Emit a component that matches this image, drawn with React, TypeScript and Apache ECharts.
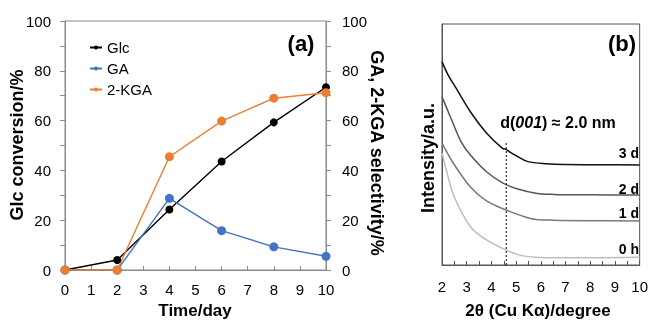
import React, { useEffect, useRef } from 'react';
import * as echarts from 'echarts';

// Panel (a): time course
const days = [0, 2, 4, 6, 8, 10];
const glcConversion = [0, 4, 24.3, 43.6, 59.3, 73.4];
const gaSelectivity = [0, 0, 28.8, 15.8, 9.3, 5.5];
const kgaSelectivity = [0, 0, 45.5, 59.8, 69, 71.2];

// Panel (b): XRD patterns [2theta, intensity a.u.]
const xrd3d = [[2.0, 84.4], [2.25, 78.8], [2.6, 72.9], [3.15, 63.6], [3.8, 54.8], [4.45, 48.4], [4.6, 48.0], [4.75, 46.8], [5.05, 45.1], [5.45, 43.0], [6.25, 42.0], [7, 41.7], [8.5, 41.6], [10, 41.5]];
const xrd2d = [[2.0, 69.8], [2.37, 60.7], [2.77, 51.2], [3.15, 45.6], [3.8, 38.7], [4.45, 34.1], [5.1, 31.4], [5.8, 29.8], [6.5, 29.3], [8, 29.1], [10, 29.0]];
const xrd1d = [[2.0, 50.6], [2.5, 41.6], [3.15, 32.4], [3.8, 26.6], [4.6, 22.8], [5.15, 20.7], [5.8, 18.9], [6.5, 18.6], [8, 18.4], [10, 18.3]];
const xrd0h = [[2.0, 46.5], [2.25, 36.5], [2.5, 28.1], [3.15, 15.9], [3.8, 10.4], [4.6, 6.2], [5.15, 4.1], [5.8, 3.2], [6.5, 3.0], [8, 3.0], [10, 3.2]];
const d001Line = [[4.6, 0], [4.6, 50.6]];

const FONT = '"Liberation Sans", Arial, sans-serif';

export default function App() {
  const ref = useRef<HTMLDivElement>(null);
  useEffect(() => {
    const chart = echarts.init(ref.current!, null, { renderer: 'svg' });
    const grayA = '#8a8a8a';
    const grayB = '#555555';
    const label = (extra: any) => ({ color: '#000', fontSize: 15, fontFamily: FONT, ...extra });
    const txt = (text: string, x: number, y: number, size: number, rotation = 0, align = 'center') => ({
      type: 'text', x, y, rotation, silent: true,
      style: {
        text, fontSize: size, fontWeight: 'bold', fontFamily: FONT, fill: '#000',
        align, verticalAlign: 'middle', textAlign: align, textVerticalAlign: 'middle',
      },
    });
    const xrdSeries = (name: string, data: number[][], color: string) => ({
      name, type: 'line', xAxisIndex: 1, yAxisIndex: 2, data, smooth: 0.35,
      showSymbol: false, lineStyle: { color, width: 1.5 },
    });
    chart.setOption({
      animation: false,
      grid: [
        { left: 65, top: 21, width: 261, height: 249, show: true, borderColor: grayA, borderWidth: 1, containLabel: false },
        { left: 442, top: 24, width: 202, height: 241, show: true, borderColor: grayB, borderWidth: 1, containLabel: false },
      ],
      legend: {
        data: ['Glc', 'GA', '2-KGA'], orient: 'vertical', left: 84, top: 35,
        itemWidth: 12, itemHeight: 5, itemGap: 6,
        textStyle: { fontSize: 15, fontFamily: FONT, color: '#000' },
      },
      xAxis: [
        {
          gridIndex: 0, type: 'value', min: 0, max: 10, interval: 1,
          axisLine: { lineStyle: { color: grayA } },
          axisTick: { inside: true, length: 4, lineStyle: { color: grayA } },
          axisLabel: label({ margin: 12 }), splitLine: { show: false },
        },
        {
          gridIndex: 1, type: 'value', min: 2, max: 10, interval: 0.5,
          axisLine: { lineStyle: { color: grayB } },
          axisTick: { inside: true, length: 4, lineStyle: { color: grayB } },
          axisLabel: label({ margin: 14, formatter: (v: number) => (Number.isInteger(v) ? String(v) : '') }),
          splitLine: { show: false },
        },
      ],
      yAxis: [
        {
          gridIndex: 0, type: 'value', min: 0, max: 100, interval: 10,
          axisLine: { show: true, lineStyle: { color: grayA } },
          axisTick: { show: true, length: 5, lineStyle: { color: grayA } },
          axisLabel: label({ margin: 14, formatter: (v: number) => (v % 20 === 0 ? String(v) : '') }),
          splitLine: { show: false },
        },
        {
          gridIndex: 0, type: 'value', position: 'right', min: 0, max: 100, interval: 10,
          axisLine: { show: true, lineStyle: { color: grayA } },
          axisTick: { show: true, length: 5, lineStyle: { color: grayA } },
          axisLabel: label({ margin: 16, formatter: (v: number) => (v % 20 === 0 ? String(v) : '') }),
          splitLine: { show: false },
        },
        {
          gridIndex: 1, type: 'value', min: 0, max: 100,
          axisLine: { show: true, lineStyle: { color: grayB } },
          axisTick: { show: false }, axisLabel: { show: false }, splitLine: { show: false },
        },
      ],
      series: [
        {
          name: 'Glc', type: 'line', xAxisIndex: 0, yAxisIndex: 0,
          data: days.map((d, i) => [d, glcConversion[i]]),
          symbol: 'circle', symbolSize: 8, itemStyle: { color: '#000' }, lineStyle: { color: '#000', width: 1.4 },
        },
        {
          name: 'GA', type: 'line', xAxisIndex: 0, yAxisIndex: 1,
          data: days.map((d, i) => [d, gaSelectivity[i]]),
          symbol: 'circle', symbolSize: 9, itemStyle: { color: '#4472C4' }, lineStyle: { color: '#4472C4', width: 1.4 },
        },
        {
          name: '2-KGA', type: 'line', xAxisIndex: 0, yAxisIndex: 1,
          data: days.map((d, i) => [d, kgaSelectivity[i]]),
          symbol: 'circle', symbolSize: 9, itemStyle: { color: '#ED7D31' }, lineStyle: { color: '#ED7D31', width: 1.4 },
        },
        xrdSeries('0 h', xrd0h, '#bdbdbd'),
        xrdSeries('1 d', xrd1d, '#7a7a7a'),
        xrdSeries('2 d', xrd2d, '#555555'),
        xrdSeries('3 d', xrd3d, '#111111'),
        {
          name: 'd001', type: 'line', xAxisIndex: 1, yAxisIndex: 2, data: d001Line,
          showSymbol: false, lineStyle: { color: '#000', width: 1, type: [2, 2] },
        },
      ],
      graphic: [
        txt('Glc conversion/%', 17, 145, 18, Math.PI / 2),
        txt('GA, 2-KGA selectivity/%', 377, 153, 18, -Math.PI / 2),
        txt('Time/day', 195, 310, 17),
        txt('Intensity/a.u.', 428, 158, 18, Math.PI / 2),
        txt('2θ (Cu Kα)/degree', 538, 310, 17),
        txt('(a)', 301, 43, 22),
        txt('(b)', 622, 43, 22),
        txt('3 d', 639, 153, 14, 0, 'right'),
        txt('2 d', 639, 189, 14, 0, 'right'),
        txt('1 d', 639, 213, 14, 0, 'right'),
        txt('0 h', 639, 249, 14, 0, 'right'),
        {
          type: 'text', x: 558, y: 122, silent: true,
          style: {
            text: '{b|d(}{i|001}{b|) ≈ 2.0 nm}',
            align: 'center', verticalAlign: 'middle', textAlign: 'center', textVerticalAlign: 'middle',
            rich: {
              b: { fontSize: 16, fontWeight: 'bold', fontFamily: FONT, fill: '#000', color: '#000' },
              i: { fontSize: 16, fontWeight: 'bold', fontStyle: 'italic', fontFamily: FONT, fill: '#000', color: '#000' },
            },
          },
        },
      ],
    });
    return () => chart.dispose();
  }, []);
  return <div ref={ref} style={{ position: 'fixed', left: 0, top: 0, width: 651, height: 321 }} />;
}
